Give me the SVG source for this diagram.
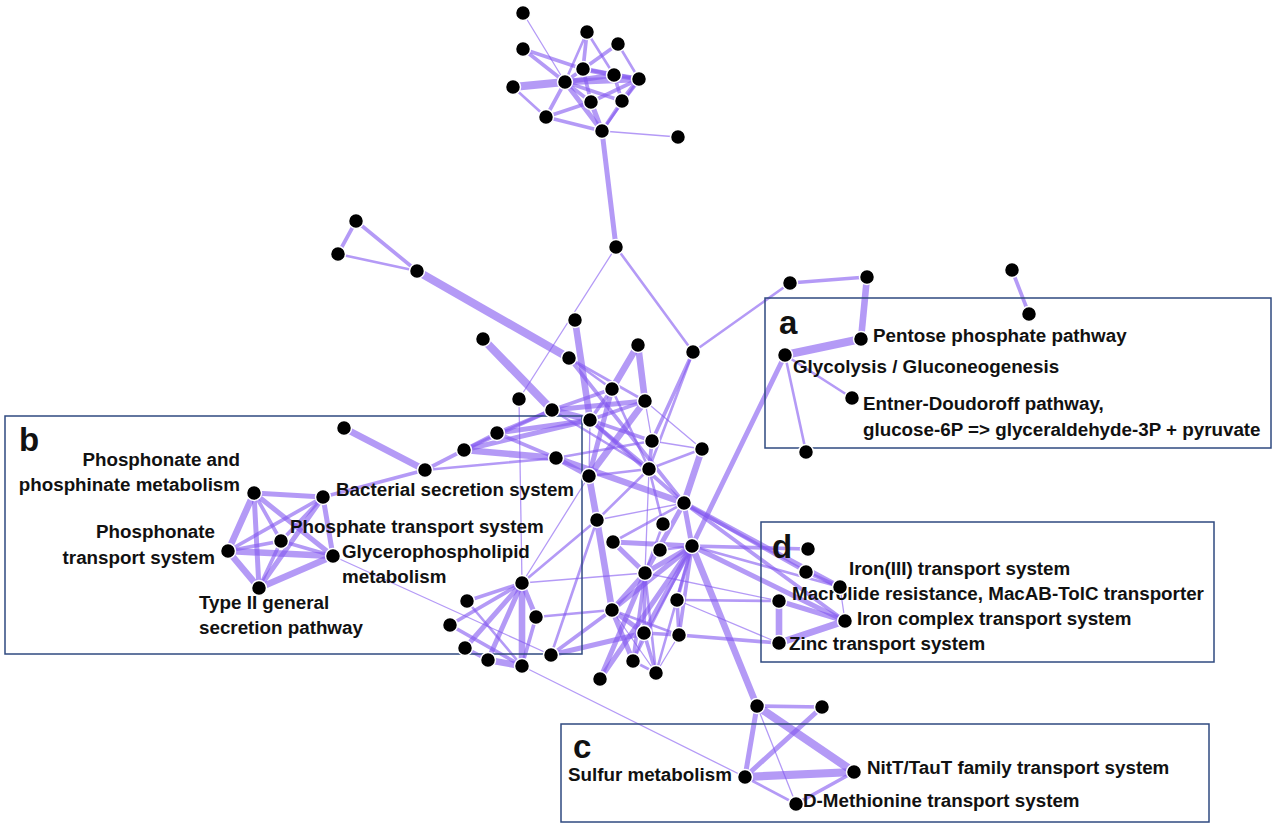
<svg xmlns="http://www.w3.org/2000/svg" width="1280" height="828" viewBox="0 0 1280 828">
<style>
.bg{fill:#ffffff}
#edges line{stroke:#8256f0;stroke-opacity:0.6;stroke-linecap:round}
.e1{stroke-width:1.3}
.e2{stroke-width:2.6}
.e3{stroke-width:3.7}
.e4{stroke-width:5}
.e5{stroke-width:6.6}
.e6{stroke-width:8.2}
.box{fill:none;stroke:#2f4a80;stroke-width:1.5}
.nodes circle{fill:#000;stroke:#fff;stroke-width:1.5}
.lb{font-family:"Liberation Sans",Arial,sans-serif;font-weight:bold;font-size:18.8px;fill:#111}
.lt{font-family:"Liberation Sans",Arial,sans-serif;font-weight:bold;font-size:33px;fill:#111}
.r{text-anchor:end}
</style>
<rect class="bg" x="0" y="0" width="1280" height="828"/>
<g id="edges">
<!-- top cluster -->
<line class="e1" x1="523" y1="13" x2="565" y2="82"/>
<line class="e3" x1="523" y1="49" x2="565" y2="82"/>
<line class="e3" x1="523" y1="49" x2="583" y2="69"/>
<line class="e6" x1="513" y1="87" x2="565" y2="82"/>
<line class="e2" x1="513" y1="87" x2="546" y2="117"/>
<line class="e3" x1="546" y1="117" x2="565" y2="82"/>
<line class="e3" x1="546" y1="117" x2="591" y2="102"/>
<line class="e3" x1="546" y1="117" x2="602" y2="131"/>
<line class="e4" x1="565" y1="82" x2="602" y2="131"/>
<line class="e3" x1="565" y1="82" x2="591" y2="102"/>
<line class="e3" x1="565" y1="82" x2="583" y2="69"/>
<line class="e5" x1="565" y1="82" x2="639" y2="79"/>
<line class="e4" x1="565" y1="82" x2="614" y2="75"/>
<line class="e3" x1="565" y1="82" x2="622" y2="101"/>
<line class="e3" x1="587" y1="32" x2="583" y2="69"/>
<line class="e2" x1="587" y1="32" x2="565" y2="82"/>
<line class="e2" x1="587" y1="32" x2="614" y2="75"/>
<line class="e3" x1="618" y1="44" x2="583" y2="69"/>
<line class="e2" x1="618" y1="44" x2="639" y2="79"/>
<line class="e4" x1="583" y1="69" x2="614" y2="75"/>
<line class="e3" x1="583" y1="69" x2="639" y2="79"/>
<line class="e3" x1="583" y1="69" x2="591" y2="102"/>
<line class="e3" x1="614" y1="75" x2="622" y2="101"/>
<line class="e4" x1="614" y1="75" x2="639" y2="79"/>
<line class="e4" x1="639" y1="79" x2="622" y2="101"/>
<line class="e3" x1="639" y1="79" x2="591" y2="102"/>
<line class="e4" x1="591" y1="102" x2="602" y2="131"/>
<line class="e3" x1="622" y1="101" x2="602" y2="131"/>
<line class="e2" x1="639" y1="79" x2="602" y2="131"/>
<line class="e1" x1="602" y1="131" x2="678" y2="137"/>
<line class="e4" x1="602" y1="131" x2="616" y2="247"/>
<!-- middle -->
<line class="e1" x1="616" y1="247" x2="519" y2="399"/>
<line class="e2" x1="616" y1="247" x2="693" y2="352"/>
<line class="e3" x1="356" y1="221" x2="338" y2="254"/>
<line class="e3" x1="356" y1="221" x2="417" y2="271"/>
<line class="e2" x1="338" y1="254" x2="417" y2="271"/>
<line class="e6" x1="417" y1="271" x2="569" y2="358"/>
<line class="e6" x1="483" y1="339" x2="552" y2="410"/>
<line class="e5" x1="575" y1="320" x2="590" y2="420"/>
<line class="e2" x1="569" y1="358" x2="645" y2="401"/>
<line class="e2" x1="569" y1="358" x2="612" y2="389"/>
<line class="e3" x1="569" y1="358" x2="684" y2="503"/>
<line class="e5" x1="638" y1="345" x2="612" y2="389"/>
<line class="e5" x1="638" y1="345" x2="645" y2="401"/>
<line class="e3" x1="612" y1="389" x2="552" y2="410"/>
<line class="e3" x1="612" y1="389" x2="590" y2="420"/>
<line class="e4" x1="612" y1="389" x2="589" y2="476"/>
<line class="e2" x1="612" y1="389" x2="649" y2="469"/>
<line class="e4" x1="552" y1="410" x2="645" y2="401"/>
<line class="e3" x1="645" y1="401" x2="590" y2="420"/>
<line class="e1" x1="645" y1="401" x2="652" y2="441"/>
<line class="e1" x1="645" y1="401" x2="702" y2="449"/>
<line class="e5" x1="645" y1="401" x2="589" y2="476"/>
<line class="e3" x1="693" y1="352" x2="652" y2="441"/>
<line class="e2" x1="693" y1="352" x2="649" y2="469"/>
<line class="e2" x1="693" y1="352" x2="790" y2="283"/>
<line class="e1" x1="652" y1="441" x2="702" y2="449"/>
<line class="e3" x1="652" y1="441" x2="649" y2="469"/>
<line class="e5" x1="702" y1="449" x2="684" y2="503"/>
<line class="e2" x1="702" y1="449" x2="649" y2="469"/>
<line class="e3" x1="590" y1="420" x2="649" y2="469"/>
<line class="e3" x1="590" y1="420" x2="684" y2="503"/>
<line class="e3" x1="590" y1="420" x2="652" y2="441"/>
<line class="e2" x1="552" y1="410" x2="649" y2="469"/>
<line class="e1" x1="590" y1="420" x2="589" y2="476"/>
<line class="e2" x1="556" y1="458" x2="652" y2="441"/>
<line class="e5" x1="556" y1="458" x2="684" y2="503"/>
<line class="e4" x1="556" y1="458" x2="589" y2="476"/>
<line class="e5" x1="589" y1="476" x2="597" y2="520"/>
<line class="e2" x1="589" y1="476" x2="649" y2="469"/>
<line class="e2" x1="649" y1="469" x2="597" y2="520"/>
<line class="e2" x1="649" y1="469" x2="663" y2="524"/>
<line class="e1" x1="649" y1="469" x2="645" y2="573"/>
<line class="e1" x1="684" y1="503" x2="597" y2="520"/>
<line class="e4" x1="684" y1="503" x2="692" y2="546"/>
<line class="e2" x1="684" y1="503" x2="613" y2="542"/>
<line class="e4" x1="684" y1="503" x2="645" y2="573"/>
<line class="e5" x1="597" y1="520" x2="612" y2="610"/>
<line class="e4" x1="613" y1="542" x2="692" y2="546"/>
<line class="e4" x1="613" y1="542" x2="645" y2="573"/>
<line class="e2" x1="660" y1="550" x2="692" y2="546"/>
<line class="e2" x1="663" y1="524" x2="645" y2="573"/>
<line class="e4" x1="692" y1="546" x2="645" y2="573"/>
<line class="e4" x1="692" y1="546" x2="612" y2="610"/>
<line class="e4" x1="692" y1="546" x2="644" y2="633"/>
<line class="e3" x1="692" y1="546" x2="679" y2="635"/>
<line class="e3" x1="692" y1="546" x2="677" y2="600"/>
<line class="e4" x1="692" y1="546" x2="600" y2="679"/>
<line class="e2" x1="692" y1="546" x2="656" y2="673"/>
<line class="e2" x1="692" y1="546" x2="633" y2="661"/>
<line class="e4" x1="645" y1="573" x2="612" y2="610"/>
<line class="e3" x1="645" y1="573" x2="644" y2="633"/>
<line class="e4" x1="645" y1="573" x2="600" y2="679"/>
<line class="e3" x1="645" y1="573" x2="633" y2="661"/>
<line class="e2" x1="645" y1="573" x2="656" y2="673"/>
<line class="e4" x1="612" y1="610" x2="644" y2="633"/>
<line class="e2" x1="612" y1="610" x2="679" y2="635"/>
<line class="e4" x1="612" y1="610" x2="633" y2="661"/>
<line class="e1" x1="612" y1="610" x2="656" y2="673"/>
<line class="e3" x1="644" y1="633" x2="679" y2="635"/>
<line class="e2" x1="644" y1="633" x2="633" y2="661"/>
<line class="e3" x1="644" y1="633" x2="656" y2="673"/>
<line class="e1" x1="679" y1="635" x2="656" y2="673"/>
<line class="e3" x1="677" y1="600" x2="679" y2="635"/>
<line class="e2" x1="633" y1="661" x2="656" y2="673"/>
<line class="e2" x1="612" y1="610" x2="536" y2="617"/>
<line class="e3" x1="551" y1="655" x2="612" y2="610"/>
<line class="e4" x1="551" y1="655" x2="644" y2="633"/>
<line class="e2" x1="551" y1="655" x2="597" y2="520"/>
<line class="e3" x1="522" y1="583" x2="467" y2="601"/>
<line class="e3" x1="522" y1="583" x2="450" y2="625"/>
<line class="e4" x1="522" y1="583" x2="465" y2="648"/>
<line class="e4" x1="522" y1="583" x2="488" y2="660"/>
<line class="e5" x1="522" y1="583" x2="522" y2="666"/>
<line class="e4" x1="522" y1="583" x2="536" y2="617"/>
<line class="e2" x1="522" y1="583" x2="597" y2="520"/>
<line class="e1" x1="522" y1="583" x2="589" y2="476"/>
<line class="e1" x1="522" y1="583" x2="645" y2="573"/>
<line class="e1" x1="522" y1="583" x2="519" y2="399"/>
<line class="e2" x1="467" y1="601" x2="522" y2="666"/>
<line class="e3" x1="450" y1="625" x2="522" y2="666"/>
<line class="e3" x1="465" y1="648" x2="488" y2="660"/>
<line class="e5" x1="488" y1="660" x2="522" y2="666"/>
<line class="e3" x1="536" y1="617" x2="522" y2="666"/>
<line class="e1" x1="522" y1="666" x2="745" y2="777"/>
<line class="e3" x1="464" y1="450" x2="497" y2="433"/>
<line class="e5" x1="464" y1="450" x2="556" y2="458"/>
<line class="e4" x1="464" y1="450" x2="590" y2="420"/>
<line class="e4" x1="497" y1="433" x2="590" y2="420"/>
<line class="e3" x1="497" y1="433" x2="556" y2="458"/>
<line class="e3" x1="497" y1="433" x2="552" y2="410"/>
<line class="e5" x1="552" y1="410" x2="590" y2="420"/>
<line class="e3" x1="464" y1="450" x2="552" y2="410"/>
<!-- b cluster -->
<line class="e4" x1="254" y1="493" x2="323" y2="497"/>
<line class="e5" x1="254" y1="493" x2="228" y2="551"/>
<line class="e4" x1="254" y1="493" x2="259" y2="588"/>
<line class="e3" x1="254" y1="493" x2="281" y2="541"/>
<line class="e4" x1="254" y1="493" x2="333" y2="556"/>
<line class="e3" x1="323" y1="497" x2="228" y2="551"/>
<line class="e3" x1="323" y1="497" x2="281" y2="541"/>
<line class="e4" x1="323" y1="497" x2="333" y2="556"/>
<line class="e4" x1="323" y1="497" x2="259" y2="588"/>
<line class="e3" x1="228" y1="551" x2="281" y2="541"/>
<line class="e5" x1="228" y1="551" x2="333" y2="556"/>
<line class="e5" x1="228" y1="551" x2="259" y2="588"/>
<line class="e3" x1="281" y1="541" x2="333" y2="556"/>
<line class="e3" x1="281" y1="541" x2="259" y2="588"/>
<line class="e5" x1="333" y1="556" x2="259" y2="588"/>
<line class="e3" x1="323" y1="497" x2="425" y2="470"/>
<line class="e1" x1="333" y1="556" x2="551" y2="655"/>
<line class="e5" x1="344" y1="428" x2="425" y2="470"/>
<line class="e3" x1="425" y1="470" x2="464" y2="450"/>
<line class="e2" x1="425" y1="470" x2="556" y2="458"/>
<!-- a cluster -->
<line class="e3" x1="790" y1="283" x2="867" y2="277"/>
<line class="e5" x1="867" y1="277" x2="861" y2="339"/>
<line class="e6" x1="861" y1="339" x2="785" y2="355"/>
<line class="e2" x1="785" y1="355" x2="852" y2="398"/>
<line class="e2" x1="785" y1="355" x2="806" y2="452"/>
<line class="e4" x1="785" y1="355" x2="692" y2="546"/>
<line class="e3" x1="1012" y1="270" x2="1029" y2="314"/>
<!-- d cluster -->
<line class="e3" x1="684" y1="503" x2="806" y2="572"/>
<line class="e4" x1="684" y1="503" x2="840" y2="587"/>
<line class="e3" x1="684" y1="503" x2="845" y2="621"/>
<line class="e3" x1="692" y1="546" x2="808" y2="549"/>
<line class="e4" x1="692" y1="546" x2="845" y2="621"/>
<line class="e2" x1="692" y1="546" x2="840" y2="587"/>
<line class="e2" x1="677" y1="600" x2="779" y2="601"/>
<line class="e3" x1="679" y1="635" x2="779" y2="643"/>
<line class="e1" x1="645" y1="573" x2="779" y2="601"/>
<line class="e1" x1="677" y1="600" x2="779" y2="643"/>
<line class="e5" x1="779" y1="601" x2="779" y2="643"/>
<line class="e4" x1="779" y1="601" x2="845" y2="621"/>
<line class="e5" x1="779" y1="643" x2="845" y2="621"/>
<line class="e1" x1="840" y1="587" x2="845" y2="621"/>
<line class="e3" x1="806" y1="572" x2="840" y2="587"/>
<!-- c cluster -->
<line class="e5" x1="692" y1="546" x2="757" y2="706"/>
<line class="e3" x1="757" y1="706" x2="822" y2="707"/>
<line class="e4" x1="757" y1="706" x2="745" y2="777"/>
<line class="e6" x1="757" y1="706" x2="854" y2="772"/>
<line class="e1" x1="757" y1="706" x2="796" y2="804"/>
<line class="e4" x1="822" y1="707" x2="745" y2="777"/>
<line class="e6" x1="745" y1="777" x2="854" y2="772"/>
<line class="e2" x1="745" y1="777" x2="796" y2="804"/>
<line class="e3" x1="854" y1="772" x2="796" y2="804"/>
</g>
<g id="boxes">
<rect id="box-a" class="box" x="765" y="298" width="506" height="150"/>
<rect id="box-b" class="box" x="5" y="416" width="577" height="238"/>
<rect id="box-c" class="box" x="561" y="724" width="648" height="98"/>
<rect id="box-d" class="box" x="761" y="522" width="453" height="140"/>
</g>
<g id="labels">
<text class="lt" x="779" y="334">a</text>
<text class="lt" x="19" y="451">b</text>
<text class="lt" x="573" y="758">c</text>
<text class="lt" x="772" y="558">d</text>
<text class="lb" x="873" y="342">Pentose phosphate pathway</text>
<text class="lb" x="793" y="373">Glycolysis / Gluconeogenesis</text>
<text class="lb" x="863" y="410">Entner-Doudoroff pathway,</text>
<text class="lb" x="863" y="436">glucose-6P =&gt; glyceraldehyde-3P + pyruvate</text>
<text class="lb r" x="240" y="466">Phosphonate and</text>
<text class="lb r" x="240" y="491">phosphinate metabolism</text>
<text class="lb r" x="215" y="538">Phosphonate</text>
<text class="lb r" x="215" y="564">transport system</text>
<text class="lb" x="199" y="609">Type II general</text>
<text class="lb" x="199" y="634">secretion pathway</text>
<text class="lb" x="336" y="496">Bacterial secretion system</text>
<text class="lb" x="290" y="533">Phosphate transport system</text>
<text class="lb" x="342" y="558">Glycerophospholipid</text>
<text class="lb" x="342" y="583">metabolism</text>
<text class="lb" x="849" y="575">Iron(III) transport system</text>
<text class="lb" x="792" y="600">Macrolide resistance, MacAB-TolC transporter</text>
<text class="lb" x="857" y="625">Iron complex transport system</text>
<text class="lb" x="789" y="650">Zinc transport system</text>
<text class="lb" x="568" y="781">Sulfur metabolism</text>
<text class="lb" x="867" y="774">NitT/TauT family transport system</text>
<text class="lb" x="803" y="807">D-Methionine transport system</text>
</g>
<g id="nodes" class="nodes">
<g id="n-t1"><circle cx="523" cy="13" r="7.5"/></g>
<g id="n-t2"><circle cx="587" cy="32" r="7.5"/></g>
<g id="n-t3"><circle cx="618" cy="44" r="7.5"/></g>
<g id="n-t4"><circle cx="523" cy="49" r="7.5"/></g>
<g id="n-t5"><circle cx="583" cy="69" r="7.5"/></g>
<g id="n-t6"><circle cx="614" cy="75" r="7.5"/></g>
<g id="n-t7"><circle cx="639" cy="79" r="7.5"/></g>
<g id="n-t8"><circle cx="565" cy="82" r="7.5"/></g>
<g id="n-t9"><circle cx="513" cy="87" r="7.5"/></g>
<g id="n-t10"><circle cx="591" cy="102" r="7.5"/></g>
<g id="n-t11"><circle cx="622" cy="101" r="7.5"/></g>
<g id="n-t12"><circle cx="546" cy="117" r="7.5"/></g>
<g id="n-t13"><circle cx="602" cy="131" r="7.5"/></g>
<g id="n-t14"><circle cx="678" cy="137" r="7.5"/></g>
<g id="n-m1"><circle cx="616" cy="247" r="7.5"/></g>
<g id="n-m2"><circle cx="356" cy="221" r="7.5"/></g>
<g id="n-m3"><circle cx="338" cy="254" r="7.5"/></g>
<g id="n-m4"><circle cx="417" cy="271" r="7.5"/></g>
<g id="n-m5"><circle cx="483" cy="339" r="7.5"/></g>
<g id="n-m6"><circle cx="575" cy="320" r="7.5"/></g>
<g id="n-m7"><circle cx="569" cy="358" r="7.5"/></g>
<g id="n-m8"><circle cx="638" cy="345" r="7.5"/></g>
<g id="n-m9"><circle cx="693" cy="352" r="7.5"/></g>
<g id="n-m10"><circle cx="519" cy="399" r="7.5"/></g>
<g id="n-m11"><circle cx="552" cy="410" r="7.5"/></g>
<g id="n-m12"><circle cx="612" cy="389" r="7.5"/></g>
<g id="n-m13"><circle cx="645" cy="401" r="7.5"/></g>
<g id="n-m14"><circle cx="590" cy="420" r="7.5"/></g>
<g id="n-m15"><circle cx="497" cy="433" r="7.5"/></g>
<g id="n-m16"><circle cx="652" cy="441" r="7.5"/></g>
<g id="n-m17"><circle cx="702" cy="449" r="7.5"/></g>
<g id="n-m19"><circle cx="464" cy="450" r="7.5"/></g>
<g id="n-m20"><circle cx="556" cy="458" r="7.5"/></g>
<g id="n-m21"><circle cx="589" cy="476" r="7.5"/></g>
<g id="n-m22"><circle cx="649" cy="469" r="7.5"/></g>
<g id="n-m23"><circle cx="684" cy="503" r="7.5"/></g>
<g id="n-m24"><circle cx="597" cy="520" r="7.5"/></g>
<g id="n-m25"><circle cx="663" cy="524" r="7.5"/></g>
<g id="n-m26"><circle cx="613" cy="542" r="7.5"/></g>
<g id="n-m27"><circle cx="660" cy="550" r="7.5"/></g>
<g id="n-m28"><circle cx="692" cy="546" r="7.5"/></g>
<g id="n-m29"><circle cx="645" cy="573" r="7.5"/></g>
<g id="n-m30"><circle cx="522" cy="583" r="7.5"/></g>
<g id="n-m31"><circle cx="677" cy="600" r="7.5"/></g>
<g id="n-m32"><circle cx="467" cy="601" r="7.5"/></g>
<g id="n-m33"><circle cx="450" cy="625" r="7.5"/></g>
<g id="n-m34"><circle cx="536" cy="617" r="7.5"/></g>
<g id="n-m35"><circle cx="612" cy="610" r="7.5"/></g>
<g id="n-m36"><circle cx="644" cy="633" r="7.5"/></g>
<g id="n-m37"><circle cx="679" cy="635" r="7.5"/></g>
<g id="n-m38"><circle cx="465" cy="648" r="7.5"/></g>
<g id="n-m39"><circle cx="488" cy="660" r="7.5"/></g>
<g id="n-m40"><circle cx="522" cy="666" r="7.5"/></g>
<g id="n-m41"><circle cx="551" cy="655" r="7.5"/></g>
<g id="n-m42"><circle cx="633" cy="661" r="7.5"/></g>
<g id="n-m43"><circle cx="656" cy="673" r="7.5"/></g>
<g id="n-m44"><circle cx="600" cy="679" r="7.5"/></g>
<g id="n-b1"><circle cx="344" cy="428" r="7.5"/></g>
<g id="n-b2"><circle cx="425" cy="470" r="7.5"/></g>
<g id="n-phosphonate-metabolism"><circle cx="254" cy="493" r="7.5"/></g>
<g id="n-bacterial-secretion"><circle cx="323" cy="497" r="7.5"/></g>
<g id="n-phosphate-transport"><circle cx="281" cy="541" r="7.5"/></g>
<g id="n-phosphonate-transport"><circle cx="228" cy="551" r="7.5"/></g>
<g id="n-glycerophospholipid"><circle cx="333" cy="556" r="7.5"/></g>
<g id="n-type2-secretion"><circle cx="259" cy="588" r="7.5"/></g>
<g id="n-a1"><circle cx="790" cy="283" r="7.5"/></g>
<g id="n-a2"><circle cx="867" cy="277" r="7.5"/></g>
<g id="n-pentose"><circle cx="861" cy="339" r="7.5"/></g>
<g id="n-glycolysis"><circle cx="785" cy="355" r="7.5"/></g>
<g id="n-entner"><circle cx="852" cy="398" r="7.5"/></g>
<g id="n-a6"><circle cx="806" cy="452" r="7.5"/></g>
<g id="n-a7"><circle cx="1012" cy="270" r="7.5"/></g>
<g id="n-a8"><circle cx="1029" cy="314" r="7.5"/></g>
<g id="n-d1"><circle cx="808" cy="549" r="7.5"/></g>
<g id="n-iron3"><circle cx="806" cy="572" r="7.5"/></g>
<g id="n-d3"><circle cx="840" cy="587" r="7.5"/></g>
<g id="n-macrolide"><circle cx="779" cy="601" r="7.5"/></g>
<g id="n-iron-complex"><circle cx="845" cy="621" r="7.5"/></g>
<g id="n-zinc"><circle cx="779" cy="643" r="7.5"/></g>
<g id="n-c1"><circle cx="757" cy="706" r="7.5"/></g>
<g id="n-c2"><circle cx="822" cy="707" r="7.5"/></g>
<g id="n-sulfur"><circle cx="745" cy="777" r="7.5"/></g>
<g id="n-nitt"><circle cx="854" cy="772" r="7.5"/></g>
<g id="n-dmet"><circle cx="796" cy="804" r="7.5"/></g>
</g>
</svg>
